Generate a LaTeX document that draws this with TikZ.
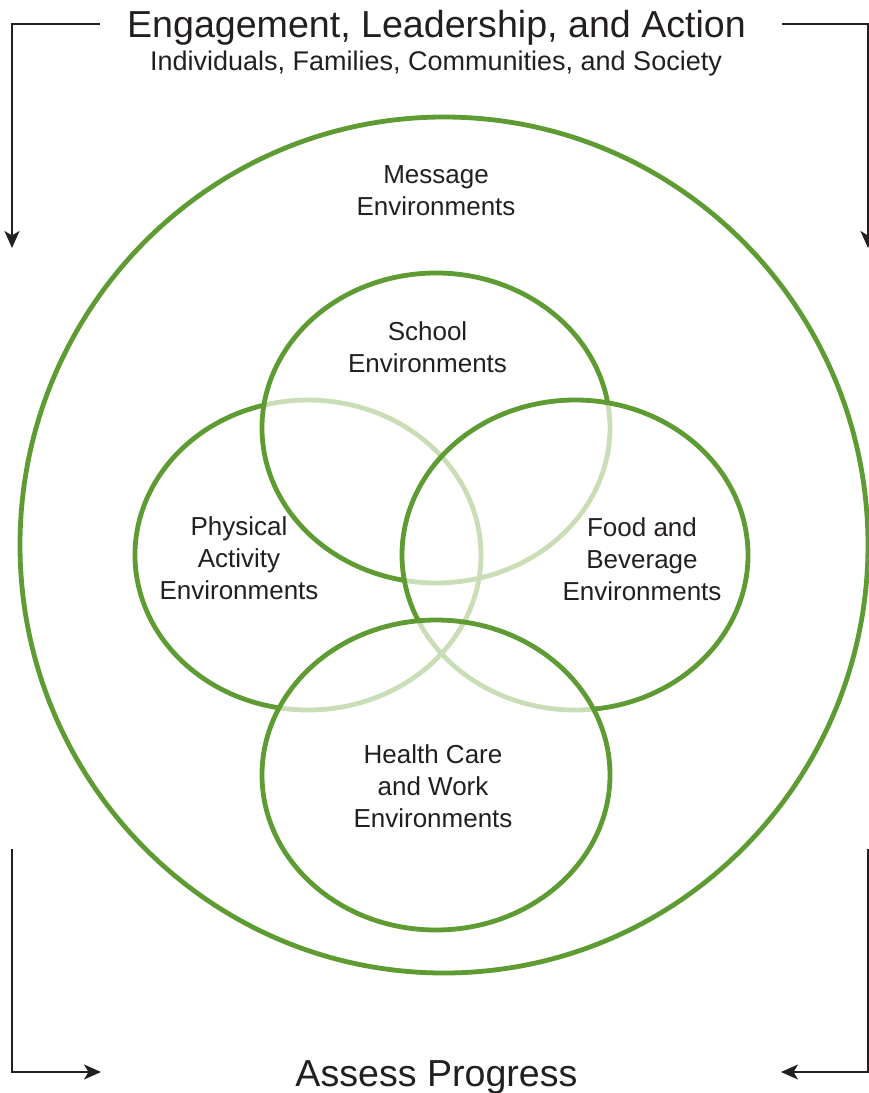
\documentclass[tikz,border=0pt]{standalone}
\usepackage{fontspec}
\setmainfont{Liberation Sans}
\usetikzlibrary{arrows.meta}
\definecolor{gdark}{HTML}{5E9B32}
\definecolor{glight}{HTML}{C9DDB7}
\definecolor{ink}{HTML}{231F20}
\begin{document}
\begin{tikzpicture}[x=1pt,y=1pt,
  darkarc/.style={draw=gdark,line width=4.8pt},
  lightarc/.style={draw=glight,line width=4.8pt},
  flow/.style={draw=ink,line width=2pt,-{Stealth[length=17pt,width=15pt,inset=4.5pt]}},
  lbl/.style={text=ink,align=center,inner sep=0pt,font=\fontsize{26}{32}\selectfont},
  head/.style={text=ink,inner sep=0pt,anchor=base,font=\fontsize{37.6}{44}\selectfont},
  subhead/.style={text=ink,inner sep=0pt,anchor=base,font=\fontsize{27}{32}\selectfont}]
\useasboundingbox (0,0) rectangle (869,-1093);
% outer circle
\draw[darkarc] (444,-545) ellipse [x radius=424,y radius=428];
% light (behind) arcs
\draw[lightarc] ({436+174*cos(-100.4)},{-428+155*sin(-100.4)}) arc[start angle=-100.4,end angle=9.3,x radius=174,y radius=155];
\draw[lightarc] ({308+173*cos(-99.2)},{-555+155*sin(-99.2)}) arc[start angle=-99.2,end angle=104.7,x radius=173,y radius=155];
\draw[lightarc] ({575+173*cos(205.2)},{-555+155*sin(205.2)}) arc[start angle=205.2,end angle=276,x radius=173,y radius=155];
% dark (front) arcs
\draw[darkarc] ({436+174*cos(9.3)},{-428+155*sin(9.3)}) arc[start angle=9.3,end angle=259.6,x radius=174,y radius=155];
\draw[darkarc] ({308+173*cos(104.7)},{-555+155*sin(104.7)}) arc[start angle=104.7,end angle=260.8,x radius=173,y radius=155];
\draw[darkarc] ({575+173*cos(276)},{-555+155*sin(276)}) arc[start angle=276,end angle=565.2,x radius=173,y radius=155];
\draw[darkarc] (436,-775) ellipse [x radius=174,y radius=155];
% labels
\node[head] (title) at (436.5,-37) {Engagement, Leadership, and Action};
\node[subhead] (sub) at (436,-70) {Individuals, Families, Communities, and Society};
\node[head] (assess) at (436.5,-1086) {Assess Progress};
\node[lbl] (msg) at (436,-190.5) {Message\\Environments};
\node[lbl] (school) at (427.5,-347.5) {School\\Environments};
\node[lbl] (phys) at (239,-558.5) {Physical\\Activity\\Environments};
\node[lbl] (food) at (642,-559.5) {Food and\\Beverage\\Environments};
\node[lbl] (health) at (433,-786.5) {Health Care\\and Work\\Environments};
% corner arrows
\coordinate (tlA) at (100,-24); \coordinate (tlB) at (12,-24); \coordinate (tlC) at (12,-248);
\coordinate (trA) at (782,-24); \coordinate (trB) at (868,-24); \coordinate (trC) at (868,-248);
\coordinate (blA) at (12,-849); \coordinate (blB) at (12,-1072); \coordinate (blC) at (101,-1072);
\coordinate (brA) at (868,-849); \coordinate (brB) at (868,-1072); \coordinate (brC) at (781,-1072);
\draw[flow] (tlA) -- (tlB) -- (tlC);
\draw[flow] (trA) -- (trB) -- (trC);
\draw[flow] (blA) -- (blB) -- (blC);
\draw[flow] (brA) -- (brB) -- (brC);
\end{tikzpicture}
\end{document}
